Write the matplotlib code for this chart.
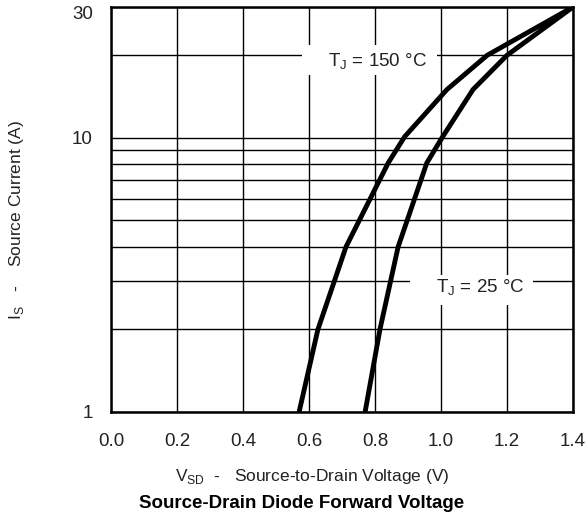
import numpy as np
import matplotlib
matplotlib.use("Agg")
import matplotlib.pyplot as plt
import matplotlib.transforms as mtransforms
from matplotlib.patches import Rectangle
from matplotlib.ticker import FixedLocator, NullLocator

plt.rcParams['font.family'] = ['Liberation Sans', 'DejaVu Sans']

# forward characteristic, source current vs. diode voltage
vsd_150 = [0.570, 0.627, 0.712, 0.840, 0.890, 1.018, 1.140, 1.400]
is_150 = [1.0, 2.0, 4.0, 8.1, 10.1, 15.0, 20.0, 30.0]
vsd_25 = [0.770, 0.815, 0.870, 0.957, 1.003, 1.097, 1.200, 1.400]
is_25 = [1.0, 2.0, 4.0, 8.1, 10.0, 15.0, 20.0, 30.0]

x_ticks = [0.0, 0.2, 0.4, 0.6, 0.8, 1.0, 1.2, 1.4]
x_labels = ['0.0', '0.2', '0.4', '0.6', '0.8', '1.0', '1.2', '1.4']
y_ticks = [1, 10, 30]
y_labels = ['1', '10', '30']
y_grid = [1, 2, 3, 4, 5, 6, 7, 8, 9, 10, 20, 30]

txt = '#222222'

fig = plt.figure(figsize=(5.87, 5.19), dpi=100)
ax = fig.add_axes([111 / 587, 1 - 412 / 519, 462 / 587, 405 / 519])

ax.set_yscale('log')
ax.set_xlim(0.0, 1.4)
ax.set_ylim(1, 30)

for v in x_ticks:
    ax.axvline(v, color='black', lw=1.0, zorder=1)
for v in y_grid:
    ax.axhline(v, color='black', lw=1.0, zorder=1)

ax.plot(vsd_150, is_150, color='black', lw=3.5, solid_capstyle='butt', zorder=3)
ax.plot(vsd_25, is_25, color='black', lw=3.5, solid_capstyle='butt', zorder=3)

# white panels behind the curve labels, cut out of the grid
ax.add_patch(Rectangle((0.4134, 0.8321), 0.2922, 0.0741, transform=ax.transAxes,
                       fc='white', ec='none', zorder=2))
ax.add_patch(Rectangle((0.6472, 0.2642), 0.2662, 0.0741, transform=ax.transAxes,
                       fc='white', ec='none', zorder=2))
ax.text(0.809, 18.9, r'T$_\mathregular{J}$ = 150 °C', fontsize=13.5, color=txt,
        ha='center', va='center', zorder=2.5)
ax.text(1.118, 2.84, r'T$_\mathregular{J}$ = 25 °C', fontsize=13.5, color=txt,
        ha='center', va='center', zorder=2.5)

ax.set_xticks(x_ticks)
ax.set_xticklabels(x_labels)
ax.yaxis.set_major_locator(FixedLocator(y_ticks))
ax.yaxis.set_minor_locator(NullLocator())
ax.set_yticklabels(y_labels)
ax.tick_params(axis='both', length=0, labelsize=13.5, colors=txt)
ax.tick_params(axis='x', pad=15)
ax.tick_params(axis='y', pad=13)

# top label sits a little below the frame edge
top = ax.get_yticklabels()[-1]
top.set_transform(top.get_transform() + mtransforms.ScaledTranslation(0, -4 / 72, fig.dpi_scale_trans))

for s in ax.spines.values():
    s.set_linewidth(1.8)
    s.set_zorder(4)

fig.text(312 / 587, 1 - 476 / 519, r'V$_\mathregular{SD}$  -   Source-to-Drain Voltage (V)',
         fontsize=12.5, color=txt, ha='center', va='center')
fig.text(17 / 587, 1 - 220 / 519, r'I$_\mathregular{S}$   -    Source Current (A)',
         fontsize=12.5, color=txt, ha='center', va='center', rotation=90)
fig.text(302 / 587, 1 - 503 / 519, 'Source-Drain Diode Forward Voltage', fontsize=13.5,
         fontweight='bold', ha='center', va='center')

fig.savefig('out.png', dpi=100, facecolor='white')
